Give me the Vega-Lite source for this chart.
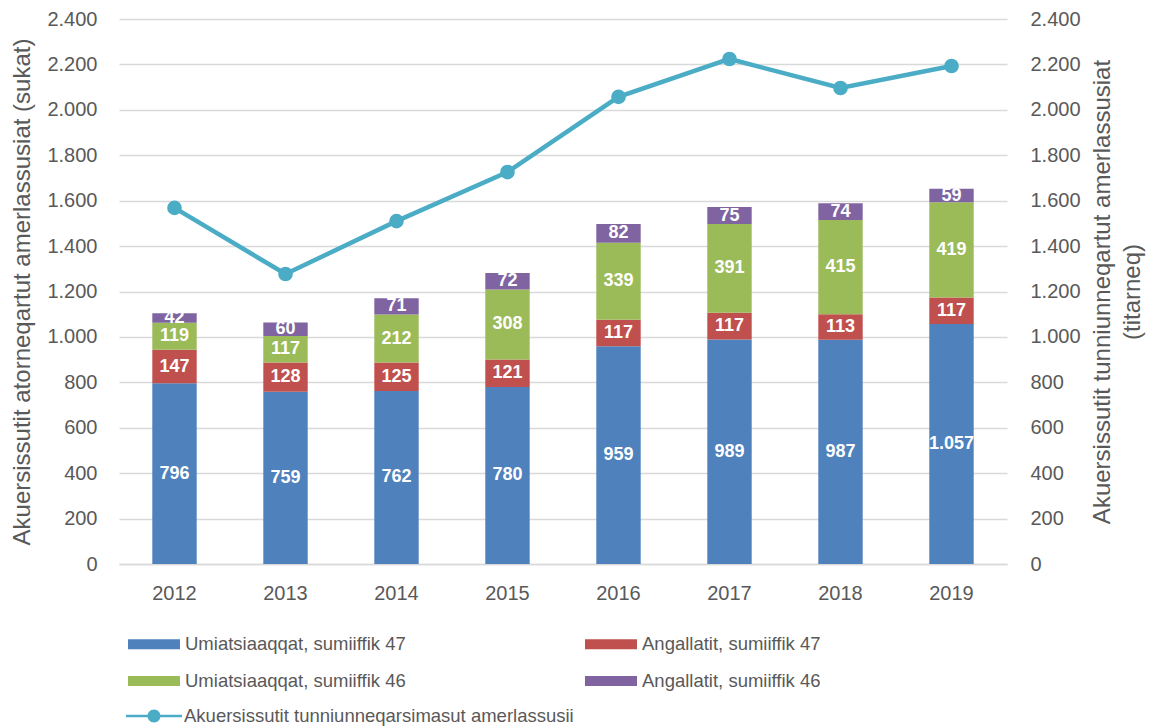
{
  "$schema": "https://vega.github.io/schema/vega-lite/v6.json",
  "width": 888,
  "height": 545,
  "autosize": {"type": "none"},
  "padding": {"left": 119, "top": 19, "right": 146, "bottom": 162},
  "config": {
    "locale": {"number": {"decimal": ",", "thousands": ".", "grouping": [3], "currency": ["", ""]}},
    "view": {"stroke": null},
    "font": "Liberation Sans"
  },
  "datasets": {
    "bars": [
      {"year": "2012", "series": "Umiatsiaaqqat, sumiiffik 47", "value": 796},
      {"year": "2012", "series": "Angallatit, sumiiffik 47", "value": 147},
      {"year": "2012", "series": "Umiatsiaaqqat, sumiiffik 46", "value": 119},
      {"year": "2012", "series": "Angallatit, sumiiffik 46", "value": 42},
      {"year": "2013", "series": "Umiatsiaaqqat, sumiiffik 47", "value": 759},
      {"year": "2013", "series": "Angallatit, sumiiffik 47", "value": 128},
      {"year": "2013", "series": "Umiatsiaaqqat, sumiiffik 46", "value": 117},
      {"year": "2013", "series": "Angallatit, sumiiffik 46", "value": 60},
      {"year": "2014", "series": "Umiatsiaaqqat, sumiiffik 47", "value": 762},
      {"year": "2014", "series": "Angallatit, sumiiffik 47", "value": 125},
      {"year": "2014", "series": "Umiatsiaaqqat, sumiiffik 46", "value": 212},
      {"year": "2014", "series": "Angallatit, sumiiffik 46", "value": 71},
      {"year": "2015", "series": "Umiatsiaaqqat, sumiiffik 47", "value": 780},
      {"year": "2015", "series": "Angallatit, sumiiffik 47", "value": 121},
      {"year": "2015", "series": "Umiatsiaaqqat, sumiiffik 46", "value": 308},
      {"year": "2015", "series": "Angallatit, sumiiffik 46", "value": 72},
      {"year": "2016", "series": "Umiatsiaaqqat, sumiiffik 47", "value": 959},
      {"year": "2016", "series": "Angallatit, sumiiffik 47", "value": 117},
      {"year": "2016", "series": "Umiatsiaaqqat, sumiiffik 46", "value": 339},
      {"year": "2016", "series": "Angallatit, sumiiffik 46", "value": 82},
      {"year": "2017", "series": "Umiatsiaaqqat, sumiiffik 47", "value": 989},
      {"year": "2017", "series": "Angallatit, sumiiffik 47", "value": 117},
      {"year": "2017", "series": "Umiatsiaaqqat, sumiiffik 46", "value": 391},
      {"year": "2017", "series": "Angallatit, sumiiffik 46", "value": 75},
      {"year": "2018", "series": "Umiatsiaaqqat, sumiiffik 47", "value": 987},
      {"year": "2018", "series": "Angallatit, sumiiffik 47", "value": 113},
      {"year": "2018", "series": "Umiatsiaaqqat, sumiiffik 46", "value": 415},
      {"year": "2018", "series": "Angallatit, sumiiffik 46", "value": 74},
      {"year": "2019", "series": "Umiatsiaaqqat, sumiiffik 47", "value": 1057},
      {"year": "2019", "series": "Angallatit, sumiiffik 47", "value": 117},
      {"year": "2019", "series": "Umiatsiaaqqat, sumiiffik 46", "value": 419},
      {"year": "2019", "series": "Angallatit, sumiiffik 46", "value": 59}
    ],
    "line": [
      {"year": "2012", "total": 1568},
      {"year": "2013", "total": 1277},
      {"year": "2014", "total": 1510},
      {"year": "2015", "total": 1726},
      {"year": "2016", "total": 2057},
      {"year": "2017", "total": 2224},
      {"year": "2018", "total": 2096},
      {"year": "2019", "total": 2193}
    ]
  },
  "encoding": {
    "x": {
      "field": "year",
      "type": "ordinal",
      "scale": {"paddingInner": 0.6, "paddingOuter": 0.3},
      "axis": {
        "title": null,
        "labelAngle": 0,
        "labelFontSize": 20,
        "labelColor": "#595959",
        "labelPadding": 19,
        "ticks": false,
        "domainColor": "#d9d9d9",
        "domainWidth": 1.5,
        "grid": false
      }
    }
  },
  "layer": [
    {
      "data": {"name": "bars"},
      "transform": [
        {"calculate": "indexof(['Umiatsiaaqqat, sumiiffik 47','Angallatit, sumiiffik 47','Umiatsiaaqqat, sumiiffik 46','Angallatit, sumiiffik 46'], datum.series)", "as": "k"},
        {"stack": "value", "groupby": ["year"], "sort": [{"field": "k", "order": "ascending"}], "as": ["v0", "v1"]},
        {"calculate": "(datum.v0 + datum.v1) / 2", "as": "mid"}
      ],
      "layer": [
        {
          "mark": {"type": "bar"},
          "encoding": {
            "y": {
              "field": "v0",
              "type": "quantitative",
              "scale": {"domain": [0, 2400], "nice": false},
              "axis": {
                "title": "Akuersissutit atorneqartut amerlassusiat (sukat)",
                "titleFontSize": 24,
                "titleFontWeight": "normal",
                "titleColor": "#595959",
                "titlePadding": 12,
                "values": [0, 200, 400, 600, 800, 1000, 1200, 1400, 1600, 1800, 2000, 2200, 2400],
                "format": ",d",
                "labelFontSize": 20,
                "labelColor": "#595959",
                "labelPadding": 22,
                "ticks": false,
                "domain": false,
                "gridColor": "#d9d9d9",
                "gridWidth": 1.5
              }
            },
            "y2": {"field": "v1"},
            "color": {
              "field": "series",
              "type": "nominal",
              "scale": {
                "domain": ["Umiatsiaaqqat, sumiiffik 47", "Umiatsiaaqqat, sumiiffik 46", "Angallatit, sumiiffik 47", "Angallatit, sumiiffik 46"],
                "range": ["#4f81bd", "#9bbb59", "#c0504d", "#8064a2"]
              },
              "legend": {
                "orient": "none",
                "legendX": 25,
                "legendY": 615,
                "columns": 2,
                "title": null,
                "symbolType": "M-2.6,-0.5H2.6V0.5H-2.6Z",
                "symbolSize": 400,
                "symbolStrokeWidth": 0,
                "labelOffset": 21,
                "labelFontSize": 18.5,
                "labelColor": "#595959",
                "labelLimit": 400,
                "rowPadding": 17,
                "columnPadding": 179
              }
            }
          }
        },
        {
          "mark": {"type": "text", "color": "white", "fontWeight": "bold", "fontSize": 18, "baseline": "middle"},
          "encoding": {
            "y": {"field": "mid", "type": "quantitative", "axis": {"title": "Akuersissutit atorneqartut amerlassusiat (sukat)"}},
            "text": {"field": "value", "type": "quantitative", "format": ",d"}
          }
        }
      ]
    },
    {
      "data": {"name": "line"},
      "mark": {"type": "line", "color": "#4bacc6", "strokeWidth": 4.5, "point": {"filled": true, "fill": "#4bacc6", "size": 160}},
      "encoding": {
        "y": {
          "field": "total",
          "type": "quantitative",
          "scale": {"domain": [0, 2400], "nice": false},
          "axis": {
            "orient": "right",
            "title": ["Akuersissutit tunniunneqartut amerlassusiat", "(titarneq)"],
            "titleAngle": -90,
            "titleFontSize": 24,
            "titleFontWeight": "normal",
            "titleColor": "#595959",
            "titleLineHeight": 30,
            "titlePadding": 4,
            "values": [0, 200, 400, 600, 800, 1000, 1200, 1400, 1600, 1800, 2000, 2200, 2400],
            "format": ",d",
            "labelFontSize": 20,
            "labelColor": "#595959",
            "labelPadding": 23,
            "ticks": false,
            "domain": false,
            "grid": false
          }
        },
        "stroke": {
          "datum": "Akuersissutit tunniunneqarsimasut amerlassusii",
          "scale": {"range": ["#4bacc6"]},
          "legend": {
            "orient": "none",
            "legendX": 25,
            "legendY": 687,
            "title": null,
            "symbolType": "M-2.8,-0.125H2.8V0.125H-2.8Z M-0.65,0A0.65,0.65,0,1,1,0.65,0A0.65,0.65,0,1,1,-0.65,0Z",
            "symbolSize": 400,
            "symbolFillColor": "#4bacc6",
            "symbolStrokeColor": "#4bacc6",
            "symbolStrokeWidth": 0,
            "labelOffset": 20,
            "labelFontSize": 18.5,
            "labelColor": "#595959",
            "labelLimit": 500
          }
        }
      }
    }
  ],
  "resolve": {"scale": {"y": "independent", "color": "independent", "stroke": "independent"}}
}
